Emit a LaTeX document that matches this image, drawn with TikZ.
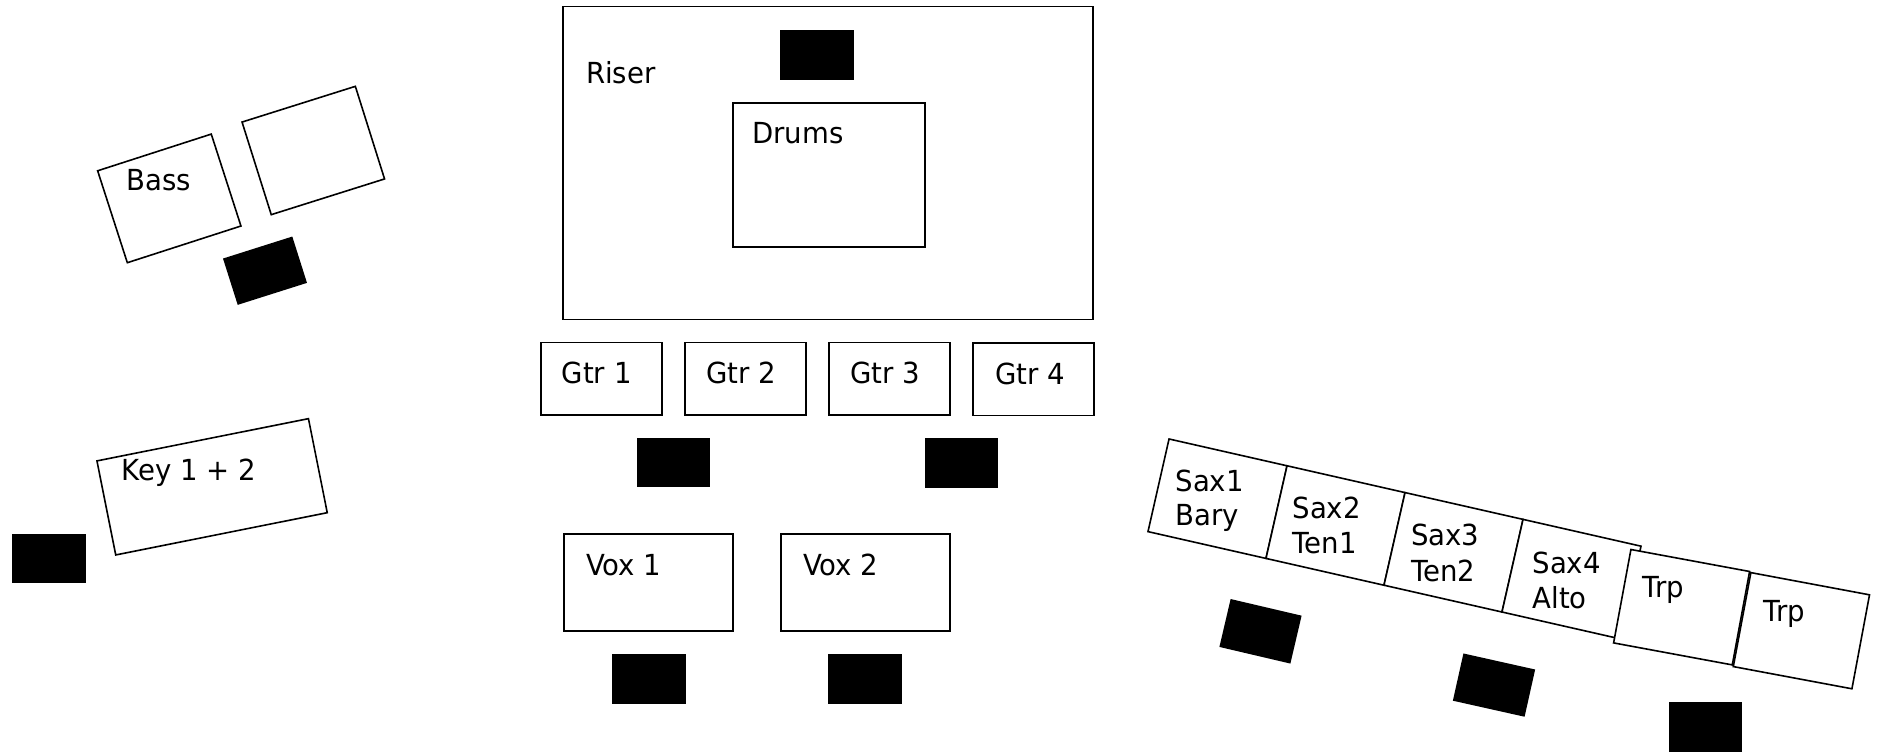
\documentclass[tikz,border=0pt]{standalone}
\usepackage{fontspec}
\setmainfont{DejaVu Sans}[FakeStretch=0.95]
\begin{document}
\begin{tikzpicture}[x=1pt,y=-1pt,
  stage/.style={rectangle, draw=black, line width=1.6pt, fill=white, inner sep=0pt, outer sep=0pt},
  wedge/.style={rectangle, fill=black, draw=none, inner sep=0pt, outer sep=0pt},
  lbl/.style={inner sep=0pt, outer sep=0pt, anchor=base, font=\fontsize{29}{34}\selectfont},
  lblw/.style={lbl, anchor=base west}]
\useasboundingbox (0,0) rectangle (1883,752);

% Riser and drums
\node[stage, minimum width=530pt, minimum height=313pt] (riser) at (828,163) {};
\node[wedge, minimum width=74pt, minimum height=50pt] (mriser) at (817,55) {};
\node[stage, minimum width=192pt, minimum height=144pt] (drums) at (829,175) {};
\node[lbl] (riserl) at (620.8,84) {Riser};
\node[lbl] (drumsl) at (797.8,143.3) {Drums};

% Guitars
\node[stage, minimum width=121pt, minimum height=72.5pt] (gtr1) at (601.5,378.7) {};
\node[stage, minimum width=121pt, minimum height=72.5pt] (gtr2) at (745.5,378.7) {};
\node[stage, minimum width=121pt, minimum height=72.5pt] (gtr3) at (889.5,378.7) {};
\node[stage, minimum width=121pt, minimum height=72.5pt] (gtr4) at (1033.5,379.2) {};
\node[lbl] (gtr1l) at (596.7,383.5) {Gtr 1};
\node[lbl] (gtr2l) at (741.5,383.5) {Gtr 2};
\node[lbl] (gtr3l) at (885.3,383.5) {Gtr 3};
\node[lbl] (gtr4l) at (1030,384) {Gtr 4};
\node[wedge, minimum width=73pt, minimum height=49pt] (mgtr1) at (673.5,462.5) {};
\node[wedge, minimum width=73pt, minimum height=50pt] (mgtr2) at (961.5,463) {};

% Vocals
\node[stage, minimum width=169pt, minimum height=97pt] (vox1) at (648.5,582.5) {};
\node[stage, minimum width=169pt, minimum height=97pt] (vox2) at (865.5,582.5) {};
\node[lbl] (vox1l) at (623.7,575) {Vox 1};
\node[lbl] (vox2l) at (840.8,575) {Vox 2};
\node[wedge, minimum width=74pt, minimum height=50pt] (mvox1) at (649,679) {};
\node[wedge, minimum width=74pt, minimum height=50pt] (mvox2) at (865,679) {};

% Bass
\node[stage, minimum width=119.4pt, minimum height=96.6pt, rotate=17.9] (bass) at (169.3,198.4) {};
\node[stage, minimum width=118.8pt, minimum height=97.1pt, rotate=17.5] (bassamp) at (313.3,150.5) {};
\node[wedge, minimum width=72.7pt, minimum height=48.6pt, rotate=17.6] (mbass) at (265,270.7) {};
\node[lbl] (bassl) at (159,190.7) {Bass};

% Keys
\node[stage, minimum width=215.7pt, minimum height=95.9pt, rotate=11.3] (keys) at (212.1,486.8) {};
\node[lbl] (keysl) at (189,480) {Key 1 + 2};
\node[wedge, minimum width=73.7pt, minimum height=49.6pt] (mkeys) at (49.2,558.5) {};

% Horns
\node[stage, minimum width=121pt, minimum height=95pt, rotate=-12.8] (sax1) at (1217.5,498.7) {};
\node[stage, minimum width=121pt, minimum height=95pt, rotate=-12.8] (sax2) at (1335.5,525.5) {};
\node[stage, minimum width=121pt, minimum height=95pt, rotate=-12.8] (sax3) at (1453.5,552.3) {};
\node[stage, minimum width=121pt, minimum height=95pt, rotate=-12.8] (sax4) at (1571.5,579.1) {};
\node[stage, minimum width=120.7pt, minimum height=95pt, rotate=-10.5] (trp1) at (1681.6,607.2) {};
\node[stage, minimum width=120.7pt, minimum height=95.6pt, rotate=-10.6] (trp2) at (1801.4,630.7) {};

\node[lblw] (sax1a) at (1175.5,491.7) {Sax1};
\node[lblw] (sax1b) at (1175.5,525) {Bary};
\node[lblw] (sax2a) at (1292.5,518.3) {Sax2};
\node[lblw] (sax2b) at (1292.5,553.3) {Ten1};
\node[lblw] (sax3a) at (1411,545) {Sax3};
\node[lblw] (sax3b) at (1411,581.7) {Ten2};
\node[lblw] (sax4a) at (1532.5,573.3) {Sax4};
\node[lblw] (sax4b) at (1532.5,608.3) {Alto};
\node[lblw] (trp1l) at (1642.5,597.5) {Trp};
\node[lblw] (trp2l) at (1763.5,621.7) {Trp};

\node[wedge, minimum width=72.9pt, minimum height=49.2pt, rotate=-13.2] (msax1) at (1260.5,631.3) {};
\node[wedge, minimum width=73.5pt, minimum height=48.4pt, rotate=-12.6] (msax2) at (1494,685.1) {};
\node[wedge, minimum width=73pt, minimum height=50pt] (mtrp) at (1705.5,727) {};
\end{tikzpicture}
\end{document}
